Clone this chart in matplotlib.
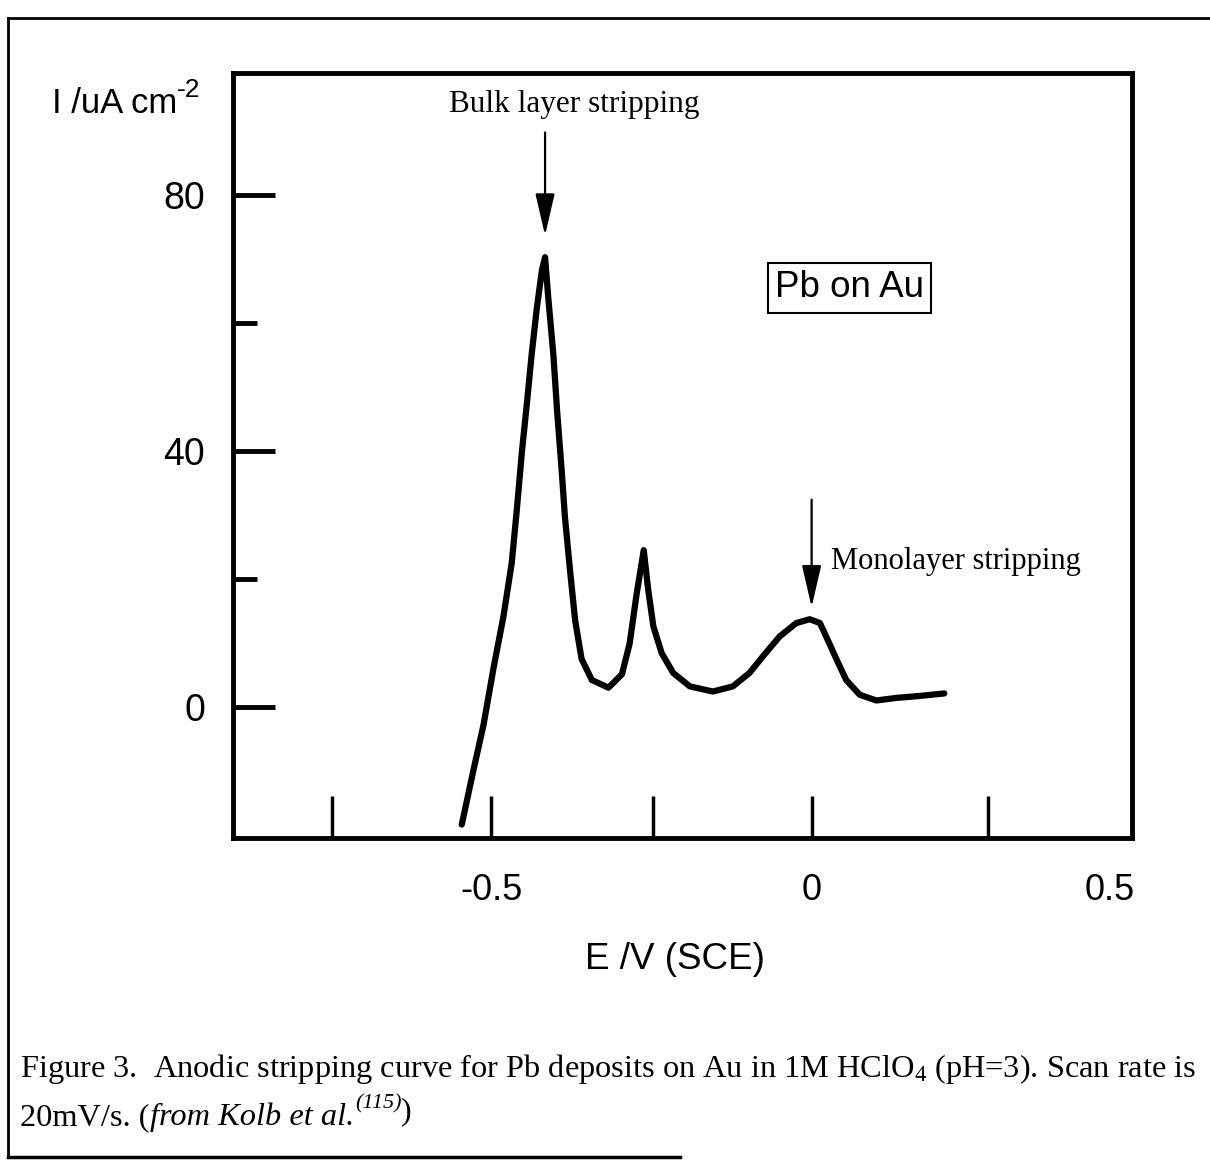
import matplotlib
matplotlib.use("Agg")
import matplotlib.pyplot as plt
from matplotlib.lines import Line2D

plt.rcParams['mathtext.fontset'] = 'custom'
plt.rcParams['mathtext.rm'] = 'Liberation Serif'
plt.rcParams['mathtext.it'] = 'Liberation Serif:italic'

# stripping curve: potential (V vs SCE) and current (uA cm-2)
potential = [-0.546, -0.528, -0.512, -0.496, -0.481, -0.468, -0.460, -0.452,
             -0.444, -0.437, -0.429, -0.421, -0.416, -0.411, -0.403, -0.397,
             -0.390, -0.385, -0.377, -0.369, -0.359, -0.343, -0.317, -0.296,
             -0.284, -0.273, -0.262, -0.255, -0.247, -0.234, -0.216, -0.190,
             -0.154, -0.123, -0.097, -0.076, -0.050, -0.024, -0.003, 0.013,
             0.025, 0.039, 0.054, 0.075, 0.101, 0.132, 0.168, 0.207]
current = [-18.4, -10.0, -2.8, 6.3, 14.1, 22.5, 30.9, 40.0,
           47.8, 55.0, 62.2, 68.2, 70.3, 64.0, 55.0, 46.0,
           36.9, 29.7, 21.3, 13.5, 7.5, 4.2, 3.0, 5.1,
           9.9, 17.7, 24.5, 18.3, 12.6, 8.4, 5.3, 3.2,
           2.4, 3.2, 5.3, 7.9, 11.0, 13.1, 13.7, 13.1,
           10.5, 7.4, 4.2, 1.9, 1.0, 1.4, 1.7, 2.1]

x_label_pos = [-0.5, 0.0, 0.465]
x_labels = ['-0.5', '0', '0.5']
x_tick_marks = [-0.749, -0.5, -0.248, 0.0, 0.276]
y_label_pos = [0, 40, 80]
y_minor = [20, 60]

bulk_peak = (-0.416, 70.3)
mono_peak = (0.0, 13.7)

W, H = 1210, 1161
fig = plt.figure(figsize=(W / 100, H / 100), dpi=100)
ax = fig.add_axes([233 / W, 1 - 838 / H, (1132 - 233) / W, (838 - 73) / H])

ax.plot(potential, current, color='black', lw=4.5, solid_capstyle='round',
        solid_joinstyle='round')

ax.set_xlim(-0.903, 0.5)
ax.set_ylim(-20.5, 99.1)

for s in ax.spines.values():
    s.set_linewidth(3.5)

sans = 'Liberation Sans'
ax.xaxis.remove_overlapping_locs = False
ax.set_xticks(x_label_pos)
ax.set_xticklabels(x_labels, family=sans, fontsize=26)
ax.tick_params(axis='x', which='major', length=0, pad=25)
ax.set_xticks(x_tick_marks, minor=True)
ax.tick_params(axis='x', which='minor', direction='in', length=30, width=2.5)

ax.set_yticks(y_label_pos)
ax.set_yticklabels([str(v) for v in y_label_pos], family=sans, fontsize=27)
ax.tick_params(axis='y', which='major', direction='in', length=30, width=3.5, pad=20)
ax.set_yticks(y_minor, minor=True)
ax.tick_params(axis='y', which='minor', direction='in', length=17, width=3.5)

ax.set_xlabel('E /V (SCE)', family=sans, fontsize=26.5, labelpad=25)
ax.xaxis.label.set_x((675 - 233) / (1132 - 233))

ylab = fig.text(52 / W, 1 - 113 / H, 'I /uA cm', family=sans, fontsize=25,
                ha='left', va='baseline')
ax.annotate('-2', xy=(0.995, 0.55), xycoords=ylab, ha='left', va='bottom',
            family=sans, fontsize=19)

# arrows and labels for the two stripping peaks
arrow = dict(arrowstyle='-|>,head_length=1.3,head_width=0.3', color='black',
             lw=1.6, mutation_scale=20, shrinkA=0, shrinkB=0)
ax.annotate('', xy=(bulk_peak[0], bulk_peak[1] + 3.4), xytext=(bulk_peak[0], 89.8),
            arrowprops=arrow)
ax.text(-0.371, 94.1, 'Bulk layer stripping', family='Liberation Serif',
        fontsize=22.5, ha='center', va='center')
ax.annotate('', xy=(mono_peak[0], mono_peak[1] + 1.9), xytext=(mono_peak[0], 32.4),
            arrowprops=arrow)
ax.text(0.031, 22.7, 'Monolayer stripping', family='Liberation Serif',
        fontsize=22, ha='left', va='center')

ax.text(0.059, 65.5, 'Pb on Au', family=sans, fontsize=26.5, ha='center', va='center',
        bbox=dict(boxstyle='square,pad=0.2', fc='white', ec='black', lw=1.5))

# caption
fig.text(20 / W, 1 - 1077 / H,
         r'Figure 3.  Anodic stripping curve for Pb deposits on Au in 1M HClO$_4$ (pH=3). Scan rate is',
         family='Liberation Serif', fontsize=23.3, ha='left', va='baseline')
line2 = fig.text(20 / W, 1 - 1125 / H, '20mV/s. (', family='Liberation Serif',
                 fontsize=23.3, ha='left', va='baseline')
ref = fig.text(0, 0, 'from Kolb et al.', family='Liberation Serif', style='italic',
               fontsize=23.3, ha='left', va='baseline', transform=line2.get_transform())
ref.set_position((20 / W + 0.0, 1 - 1125 / H))
fig.canvas.draw()
r = fig.canvas.get_renderer()
bb = line2.get_window_extent(r)
ref.set_position((bb.x1 / W + 1 / W, 1 - 1125 / H))
sup = ax.annotate('(115)', xy=(1.0, 0.62), xycoords=ref, ha='left', va='bottom',
                  family='Liberation Serif', style='italic', fontsize=16)
ax.annotate(')', xy=(1.0, 0.0), xycoords=sup, xytext=(0, -9),
            textcoords='offset points', ha='left', va='bottom',
            family='Liberation Serif', fontsize=23.3)

# page frame from the scan
fig.add_artist(Line2D([8 / W, 1.0], [1 - 18 / H, 1 - 18 / H], color='black', lw=2))
fig.add_artist(Line2D([8 / W, 8 / W], [1 - 18 / H, 1 - 1157 / H], color='black', lw=2))
fig.add_artist(Line2D([8 / W, 680 / W], [1 - 1157 / H, 1 - 1157 / H], color='black', lw=2.5))

fig.savefig('out.png', dpi=100)
